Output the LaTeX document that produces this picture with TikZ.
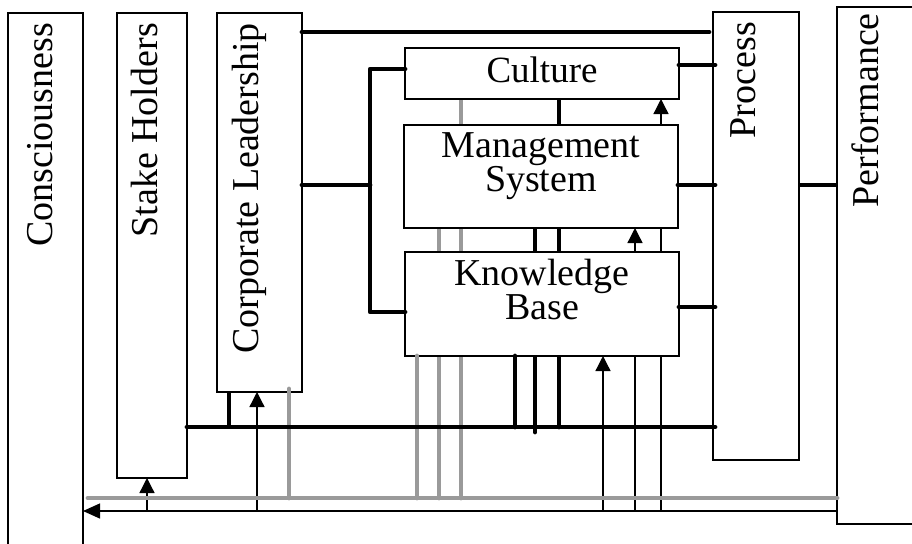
\documentclass[tikz,border=0pt]{standalone}
\usepackage{fontspec}
\setmainfont{Liberation Serif}
\usetikzlibrary{arrows.meta,calc}
\definecolor{linegrey}{HTML}{9A9A9A}
\pgfdeclarelayer{behind}
\pgfsetlayers{behind,main}

\begin{document}
\begin{tikzpicture}[x=1pt,y=-1pt,
  box/.style={draw, fill=white, line width=1.8pt, rectangle, inner sep=0pt, outer sep=0pt, anchor=north west},
  lbl/.style={font=\fontsize{38}{40}\selectfont, inner sep=0pt},
  vlbl/.style={lbl, rotate=90, anchor=base east},
  heavy/.style={line width=4.8pt, line cap=round, line join=round},
  greyline/.style={line width=4.8pt, draw=linegrey, line cap=round},
  fine/.style={line width=1.3pt},
  tip/.style={-{Triangle[length=15pt,width=15pt]}},
]
\useasboundingbox (0,0) rectangle (912,543);
\clip (0,0) rectangle (912,543);

% boxes
\node[box, minimum width=75pt,  minimum height=560pt] (cons) at (8,13)   {};
\node[box, minimum width=70pt,  minimum height=465pt] (sh)   at (117,13) {};
\node[box, minimum width=85pt,  minimum height=379pt] (cl)   at (217,13) {};
\node[box, minimum width=274pt, minimum height=51pt]  (cul)  at (405,48) {};
\node[box, minimum width=274pt, minimum height=103pt] (ms)   at (404,125) {};
\node[box, minimum width=274pt, minimum height=104pt] (kb)   at (405,252) {};
\node[box, minimum width=86pt,  minimum height=448pt] (proc) at (713,12) {};
\node[box, minimum width=100pt, minimum height=517pt] (perf) at (837,7)  {};

% labels
\node[vlbl] (consl) at (52,23)  {Consciousness};
\node[vlbl] (shl)   at (157,23) {Stake Holders};
\node[vlbl] (cll)   at (258,23) {Corporate Leadership};
\node[vlbl] (procl) at (755,22) {Process};
\node[vlbl] (perfl) at (878,13) {Performance};
\node[lbl, anchor=base, font=\fontsize{37}{40}\selectfont] (cull) at ($(cul.north)+(0,34)$) {Culture};
\node[lbl, anchor=north, align=center, font=\fontsize{38}{34}\selectfont]
  (msl) at ($(ms.north)+(0,7)$) {Management\\System};
\node[lbl, anchor=north, align=center, font=\fontsize{38}{33.5}\selectfont]
  (kbl) at ($(kb.north)+(0,7)$) {Knowledge\\Base};

% levels and columns
\coordinate (ytop)  at (0,32);
\coordinate (ycul)  at (0,67);
\coordinate (yms)   at (0,185);
\coordinate (ykb)   at (0,310);
\coordinate (kbus)  at (0,427);
\coordinate (gbus)  at (0,498);
\coordinate (fbus)  at (0,511);
\coordinate (jx)    at (370,0);
\coordinate (clk)   at (229,0);
\coordinate (clg)   at (289,0);
\coordinate (sha)   at (147,0);
\coordinate (cla)   at (257,0);
\coordinate (g1)    at (417,0);
\coordinate (g2)    at (439,0);
\coordinate (g3)    at (461,0);
\coordinate (b1)    at (515,0);
\coordinate (b2)    at (535,0);
\coordinate (b3)    at (559,0);
\coordinate (a1)    at (603,0);
\coordinate (a2)    at (635,0);
\coordinate (a3)    at (661,0);

% links running behind the central boxes
\begin{pgfonlayer}{behind}
  \draw[greyline] (cul.south -| g3) -- (g3 |- gbus);
  \draw[greyline] (ms.south -| g2) -- (g2 |- gbus);
  \draw[heavy] (cul.south -| b3) -- (b3 |- kbus);
  \draw[heavy] (ms.south -| b2) -- ($(b2 |- kbus)+(0,5)$);
  \draw[fine, tip] (a2 |- fbus) -- (ms.south -| a2);
  \draw[fine, tip] (a3 |- fbus) -- (cul.south -| a3);
\end{pgfonlayer}

% feedback line and upward arrows
\draw[fine, -{Triangle[length=17pt,width=15pt]}] (perf.west |- fbus) -- (cons.east |- fbus);
\draw[fine, tip] (sha |- fbus) -- (sh.south -| sha);
\draw[fine, tip] (cla |- fbus) -- (cl.south -| cla);
\draw[fine, tip] (a1 |- fbus) -- (kb.south -| a1);

% grey links
\draw[greyline] ($(cons.east |- gbus)+(5,0)$) -- (perf.west |- gbus);
\draw[greyline] ($(cl.south -| clg)+(0,-3)$) -- (clg |- gbus);
\draw[greyline] (kb.south -| g1) -- (g1 |- gbus);

% heavy links
\draw[heavy] (cl.east |- ytop) -- ($(proc.west |- ytop)+(-4,0)$);
\draw[heavy] (cl.east |- yms) -- (jx |- yms);
\draw[heavy] ($(cul.west |- ycul)+(0,2)$) -- ($(jx |- ycul)+(0,2)$) -- ($(jx |- ykb)+(0,2)$) -- ($(kb.west |- ykb)+(0,2)$);
\draw[heavy] ($(cul.east |- ycul)+(0,-2)$) -- ($(proc.west |- ycul)+(2,-2)$);
\draw[heavy] (ms.east |- yms) -- ($(proc.west |- yms)+(2,0)$);
\draw[heavy] ($(kb.east |- ykb)+(0,-3)$) -- ($(proc.west |- ykb)+(2,-3)$);
\draw[heavy, line cap=butt] (proc.east |- yms) -- (perf.west |- yms);
\draw[heavy] (kb.south -| b1) -- (b1 |- kbus);
\draw[heavy, line cap=butt] (cl.south -| clk) -- (clk |- kbus);
\draw[heavy] (sh.east |- kbus) -- ($(proc.west |- kbus)+(2,0)$);
\end{tikzpicture}
\end{document}
